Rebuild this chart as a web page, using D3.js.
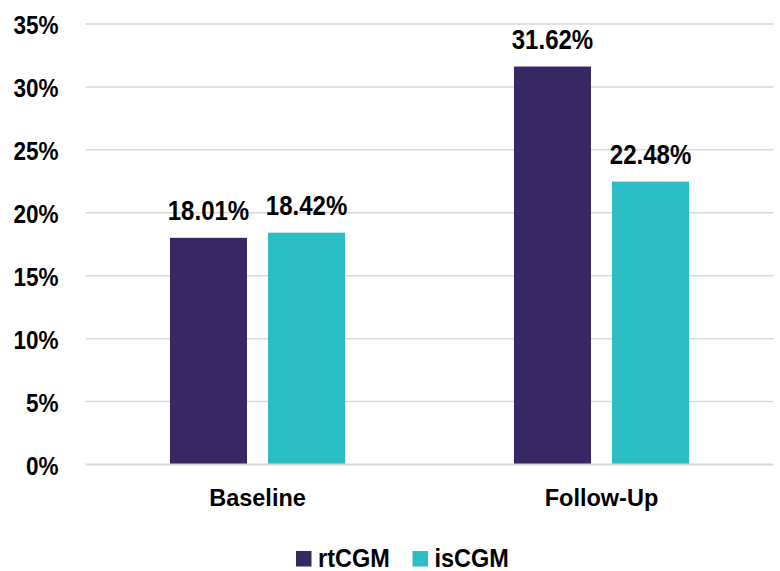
<!DOCTYPE html>
<html>
<head>
<meta charset="utf-8">
<script src="https://cdn.jsdelivr.net/npm/d3@7"></script>
<style>
  html, body { margin: 0; padding: 0; background: #fff; }
  svg { display: block; font-family: "Liberation Sans", Arial, sans-serif; font-weight: bold; }
</style>
</head>
<body>
<svg id="chart" width="780" height="571"></svg>
<script>
// Share of patients by study period and CGM type (percent)
const categories = ["Baseline", "Follow-Up"];
const seriesNames = ["rtCGM", "isCGM"];
const rtCGM = [18.01, 31.62];
const isCGM = [18.42, 22.48];
const yTicks = [0, 5, 10, 15, 20, 25, 30, 35];
const colors = ["#372763", "#2bbec5"];

const seriesValues = [rtCGM, isCGM];
const svg = d3.select("#chart");

// squeeze glyphs horizontally to a narrow face
function condense(sel, factor) {
  sel.each(function () {
    const w = this.getComputedTextLength();
    d3.select(this).attr("textLength", w * factor).attr("lengthAdjust", "spacingAndGlyphs");
  });
}

const plot = { left: 85.5, right: 773.5, top: 24, bottom: 464.5 };

const x0 = d3.scaleBand()
  .domain(categories)
  .range([plot.left, plot.right])
  .paddingInner(0.491)
  .paddingOuter(0.2455);

const x1 = d3.scaleBand()
  .domain(seriesNames)
  .range([0, x0.bandwidth()])
  .paddingInner(0.214);

const y = d3.scaleLinear().domain([0, 35]).range([plot.bottom, plot.top]);

// gridlines
svg.append("g")
  .selectAll("line")
  .data(yTicks.filter(t => t > 0))
  .join("line")
  .attr("x1", plot.left).attr("x2", plot.right)
  .attr("y1", d => y(d)).attr("y2", d => y(d))
  .attr("stroke", "#d9d9d9").attr("stroke-width", 1.5);

// y axis labels
const yAxis = d3.axisLeft(y).tickValues(yTicks).tickFormat(d => d + "%").tickSize(0).tickPadding(0);
const gy = svg.append("g").attr("transform", `translate(${58.5},0)`).call(yAxis);
gy.select(".domain").remove();
gy.selectAll("text")
  .attr("fill", "#000")
  .style("font-size", "26.5px")
  .style("font-family", null)
  .attr("dy", "0.36em")
  .call(condense, 0.85);

// bars
const groups = svg.append("g")
  .selectAll("g")
  .data(categories)
  .join("g")
  .attr("transform", d => `translate(${x0(d)},0)`);

const cells = (c, i) => seriesNames.map((s, j) => ({ s, j, v: seriesValues[j][i] }));

groups.selectAll("rect")
  .data(cells)
  .join("rect")
  .attr("x", d => x1(d.s))
  .attr("width", x1.bandwidth())
  .attr("y", d => y(d.v))
  .attr("height", d => y(0) - y(d.v))
  .attr("fill", d => colors[d.j]);

groups.selectAll("text.val")
  .data(cells)
  .join("text")
  .attr("class", "val")
  .attr("x", d => x1(d.s) + x1.bandwidth() / 2)
  .attr("y", d => y(d.v) - 17.5)
  .attr("text-anchor", "middle")
  .style("font-size", "27px")
  .attr("fill", "#000")
  .text(d => d.v.toFixed(2) + "%")
  .call(condense, 0.89);

// baseline axis
svg.append("line")
  .attr("x1", plot.left).attr("x2", plot.right)
  .attr("y1", y(0)).attr("y2", y(0))
  .attr("stroke", "#d9d9d9").attr("stroke-width", 2);

// category labels
const xAxis = d3.axisBottom(x0).tickSize(0).tickPadding(0);
const gx = svg.append("g").attr("transform", `translate(0,${505.5})`).call(xAxis);
gx.select(".domain").remove();
gx.selectAll("text")
  .attr("fill", "#000")
  .attr("dy", 0)
  .style("font-size", "23.5px")
  .style("font-family", null);

// legend
const legendItems = [
  { name: "rtCGM", x: 296 },
  { name: "isCGM", x: 412.5 }
];
const lg = svg.append("g");
legendItems.forEach((item, i) => {
  lg.append("rect")
    .attr("x", item.x).attr("y", 551)
    .attr("width", 15.5).attr("height", 15.5)
    .attr("fill", colors[i]);
  lg.append("text")
    .attr("x", item.x + 22).attr("y", 566.5)
    .style("font-size", "25.5px")
    .attr("fill", "#000")
    .text(item.name)
    .call(condense, 0.92);
});
</script>
</body>
</html>
